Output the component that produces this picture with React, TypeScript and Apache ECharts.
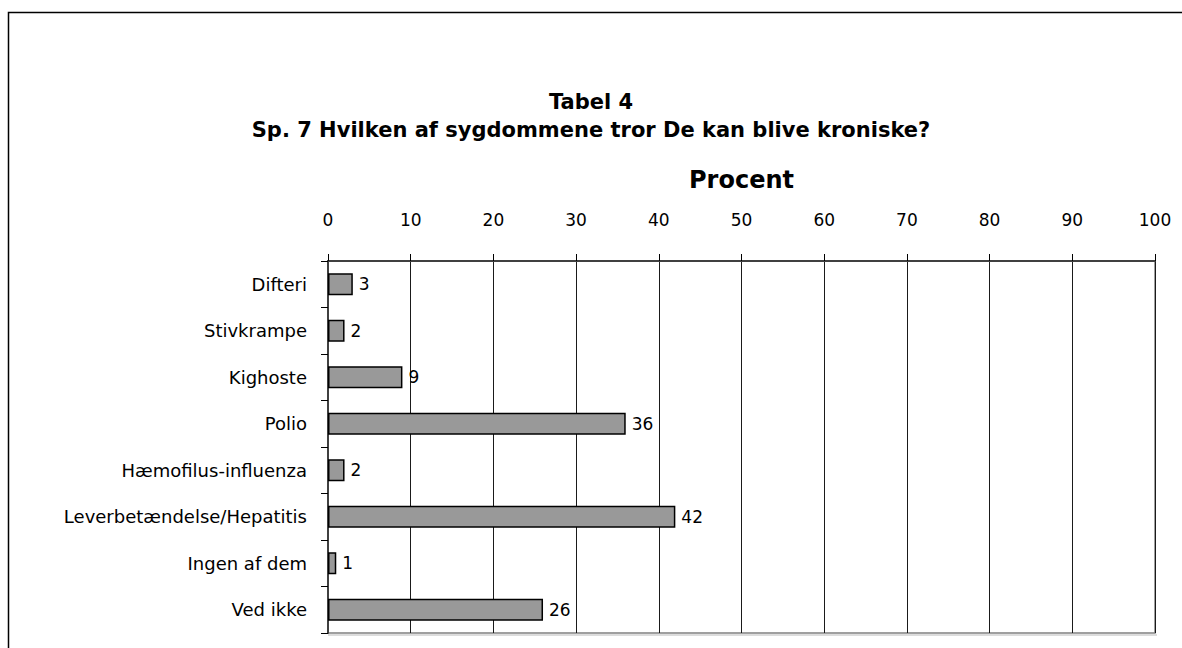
import React, { useEffect, useRef } from "react";
import * as echarts from "echarts";

const categories = [
  "Difteri",
  "Stivkrampe",
  "Kighoste",
  "Polio",
  "Hæmofilus-influenza",
  "Leverbetændelse/Hepatitis",
  "Ingen af dem",
  "Ved ikke",
];
const values = [3, 2, 9, 36, 2, 42, 1, 26];
const titleLines = ["Tabel 4", "Sp. 7 Hvilken af sygdommene tror De kan blive kroniske?"];
const axisName = "Procent";

const FONT = "'DejaVu Sans', Verdana, sans-serif";

export default function App() {
  const ref = useRef<HTMLDivElement>(null);
  useEffect(() => {
    if (!ref.current) return;
    const chart = echarts.init(ref.current, null, { renderer: "svg" });
    chart.setOption({
      animation: false,
      backgroundColor: "#ffffff",
      textStyle: { fontFamily: FONT },
      title: {
        text: titleLines.join("\n"),
        left: "center",
        top: 83,
        textStyle: { fontFamily: FONT, fontSize: 21, fontWeight: "bold", color: "#000", lineHeight: 28 },
      },
      grid: {
        left: 328,
        top: 261,
        right: 27,
        bottom: 15,
        show: true,
        borderColor: "#808080",
        borderWidth: 1.5,
      },
      xAxis: {
        type: "value",
        position: "top",
        min: 0,
        max: 100,
        interval: 10,
        name: axisName,
        nameLocation: "middle",
        nameGap: 69,
        nameTextStyle: { fontFamily: FONT, fontSize: 24, fontWeight: "bold", color: "#000" },
        axisLine: { show: true, lineStyle: { color: "#404040", width: 2 } },
        axisTick: { show: true, length: 7, lineStyle: { color: "#000", width: 1 } },
        axisLabel: { fontFamily: FONT, fontSize: 17, color: "#000", margin: 33 },
        splitLine: { show: true, lineStyle: { color: "#1a1a1a", width: 1 } },
      },
      yAxis: {
        type: "category",
        data: categories,
        inverse: true,
        axisLine: { show: true, lineStyle: { color: "#404040", width: 2 } },
        axisTick: { show: true, length: 7, lineStyle: { color: "#000", width: 1 } },
        axisLabel: { fontFamily: FONT, fontSize: 18, color: "#000", margin: 21 },
        splitLine: { show: false },
      },
      series: [
        {
          type: "bar",
          data: values,
          barWidth: "47%",
          itemStyle: { color: "#999999", borderColor: "#000", borderWidth: 1.5 },
          label: {
            show: true,
            position: "right",
            distance: 6,
            fontFamily: FONT,
            fontSize: 17,
            color: "#000",
          },
        },
      ],
      graphic: [
        {
          type: "rect",
          shape: { x: 8.5, y: 12.5, width: 1300, height: 1000 },
          style: { fill: "none", stroke: "#000", lineWidth: 1.5 },
          silent: true,
        },
        {
          type: "line",
          shape: { x1: 328, y1: 635, x2: 1157, y2: 635 },
          style: { stroke: "#d0d0d0", lineWidth: 1.5 },
          silent: true,
        },
      ],
    });
    return () => chart.dispose();
  }, []);
  return (
    <div
      ref={ref}
      style={{ position: "absolute", left: 0, top: 0, width: 1182, height: 648 }}
    />
  );
}
